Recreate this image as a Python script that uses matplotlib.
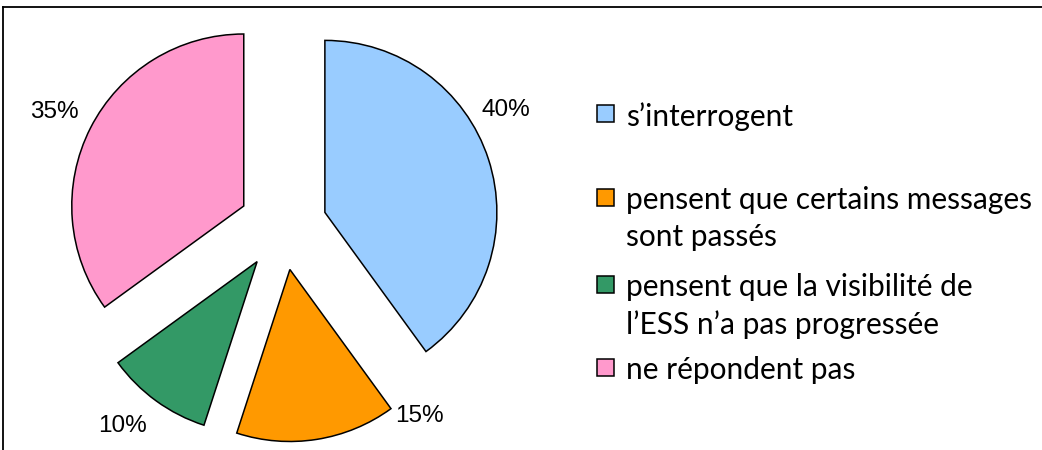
import matplotlib
matplotlib.use('Agg')
import matplotlib.pyplot as plt
from matplotlib.patches import Rectangle
from matplotlib.lines import Line2D
import numpy as np

# data
labels = ['s\u2019interrogent',
          'pensent que certains messages\nsont pass\u00e9s',
          'pensent que la visibilit\u00e9 de\nl\u2019ESS n\u2019a pas progress\u00e9e',
          'ne r\u00e9pondent pas']
shares = [40, 15, 10, 35]
colors = ['#99CCFF', '#FF9900', '#339966', '#FF99CC']

W, H = 1042, 450
fig = plt.figure(figsize=(W / 100, H / 100), dpi=100)

# pie axes: 1 data unit = radius (172 px), centre at (283, 226) px
R = 172
cx, cy = 283, 226
L = 1.45
side = 2 * L * R
ax = fig.add_axes([(cx - side / 2) / W, (H - cy - side / 2) / H, side / W, side / H])
ax.pie(shares, colors=colors, startangle=90, counterclock=False, radius=1,
       explode=[0.256] * len(shares),
       wedgeprops=dict(edgecolor='black', linewidth=1.1))
ax.set_xlim(-L, L)
ax.set_ylim(-L, L)
ax.set_aspect('equal')
ax.axis('off')

# percentage labels (angle clockwise from top, distance in radii)
lab_angle = [62, 144, 219, 297]
lab_dist = [1.47, 1.35, 1.48, 1.49]
for v, a, d in zip(shares, lab_angle, lab_dist):
    t = np.radians(a)
    ax.text(d * np.sin(t), d * np.cos(t) - 0.015, f'{v}%', ha='center', va='center',
            fontsize=17.5, family='Liberation Sans', color='black')

# legend drawn by hand
leg_y = [113, 197, 284, 367]
for lab, c, y in zip(labels, colors, leg_y):
    fig.add_artist(Rectangle((597 / W, 1 - (y + 9) / H), 17 / W, 17 / H,
                             transform=fig.transFigure, facecolor=c,
                             edgecolor='black', linewidth=1.1))
    fig.text(626 / W, 1 - (y - 11) / H, lab, ha='left', va='top',
             fontsize=21.5, family='Lato', linespacing=1.38)

# frame (top and left)
fig.add_artist(Line2D([3 / W, 1], [1 - 7 / H, 1 - 7 / H], transform=fig.transFigure,
                      color='black', linewidth=1.3))
fig.add_artist(Line2D([3 / W, 3 / W], [0, 1 - 7 / H], transform=fig.transFigure,
                      color='black', linewidth=1.3))

fig.savefig('out.png', dpi=100)
